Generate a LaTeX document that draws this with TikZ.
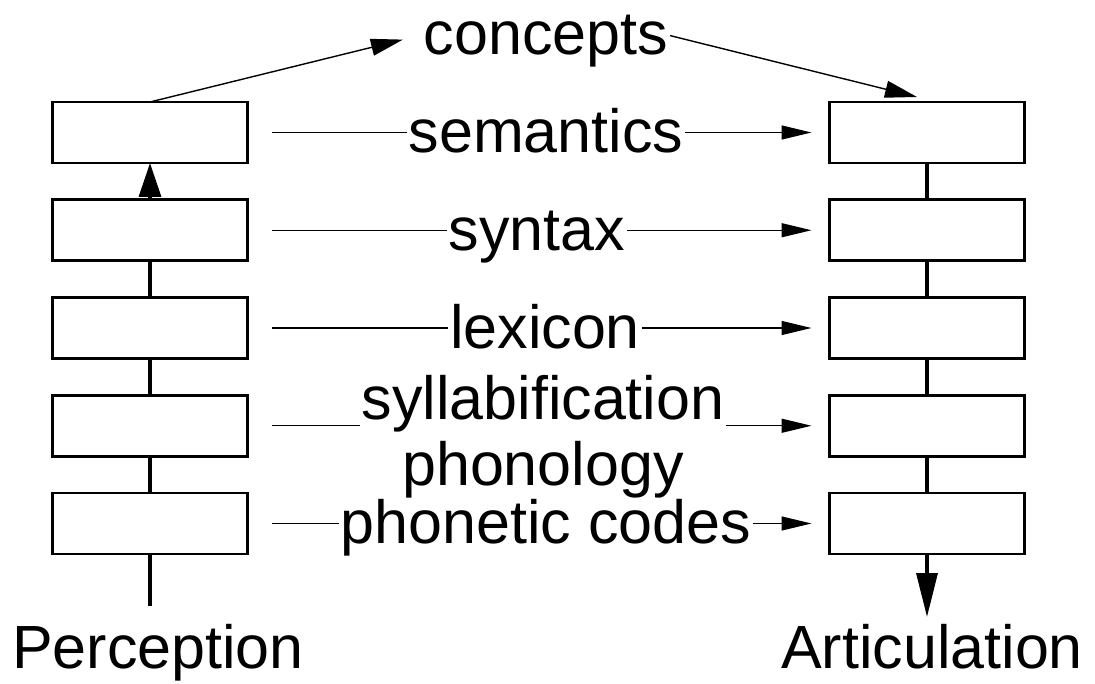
\documentclass[tikz,border=0pt]{standalone}
\usepackage{fontspec}
\setmainfont{Liberation Sans}
\usetikzlibrary{positioning,arrows.meta}

\begin{document}
\begin{tikzpicture}[x=1pt,y=-1pt,node distance=36.75pt,outer sep=0pt,
font=\fontsize{61}{66}\selectfont,
layerb/.style={
  draw,
  line width=2.6pt,
  minimum width=195pt,
  minimum height=61pt,
  inner sep=0pt},
levelt/.style={anchor=base,inner sep=2pt},
spine/.style={line width=3.4pt},
thinl/.style={line width=1.4pt},
link/.style={thinl,-{Triangle[length=30pt,width=14pt]}},
]
\useasboundingbox (0,0) rectangle (1095,684);
\node[layerb] (L1) at (150,132.5) {};
\node[layerb,below=of L1] (L2) {};
\node[layerb,below=of L2] (L3) {};
\node[layerb,below=of L3] (L4) {};
\node[layerb,below=of L4] (L5) {};
\node[layerb] (R1) at (927,132.5) {};
\node[layerb,below=of R1] (R2) {};
\node[layerb,below=of R2] (R3) {};
\node[layerb,below=of R3] (R4) {};
\node[layerb,below=of R4] (R5) {};
\node[levelt] (con) at (546,55) {concepts};
\node[levelt] (sem) at (546,153) {semantics};
\node[levelt] (syn) at (537,251) {syntax};
\node[levelt] (lex) at (545,349) {lexicon};
\node[levelt] (syl) at (543,420) {syllabification};
\node[levelt] (pho) at (543,485) {phonology};
\node[levelt] (phc) at (546,543) {phonetic codes};
\node[levelt] (per) at (158,668) {Perception};
\node[levelt] (art) at (932,668) {Articulation};
\coordinate (perin) at (150,606);
\coordinate (artout) at (927,617);
\draw[spine] (perin) -- (L5.south);
\draw[spine] (L5.north) -- (L4.south);
\draw[spine] (L4.north) -- (L3.south);
\draw[spine] (L3.north) -- (L2.south);
\draw[spine,-{Triangle[length=34pt,width=22pt]}] (L2.north) -- (L1.south);
\draw[spine] (R1.south) -- (R2.north);
\draw[spine] (R2.south) -- (R3.north);
\draw[spine] (R3.south) -- (R4.north);
\draw[spine] (R4.south) -- (R5.north);
\draw[spine,-{Triangle[length=44pt,width=21pt]}] (R5.south) -- (artout);
\draw[thinl,-{Triangle[length=32pt,width=17pt]}] (L1.north) -- ([xshift=-19pt,yshift=2pt]con.west);
\draw[thinl,-{Triangle[length=32pt,width=17pt]}] ([yshift=6pt]con.east) -- ([xshift=-10pt,yshift=5pt]R1.north);
\draw[thinl] ([xshift=24pt]L1.east) -- (L1.east -| sem.west);
\draw[link] (R1.west -| sem.east) -- ([xshift=-18pt]R1.west);
\draw[thinl] ([xshift=24pt]L2.east) -- (L2.east -| syn.west);
\draw[link] (R2.west -| syn.east) -- ([xshift=-18pt]R2.west);
\draw[thinl] ([xshift=24pt]L3.east) -- (L3.east -| lex.west);
\draw[link] (R3.west -| lex.east) -- ([xshift=-18pt]R3.west);
\draw[thinl] ([xshift=24pt]L4.east) -- (L4.east -| syl.west);
\draw[link] (R4.west -| syl.east) -- ([xshift=-18pt]R4.west);
\draw[thinl] ([xshift=24pt]L5.east) -- (L5.east -| phc.west);
\draw[link] (R5.west -| phc.east) -- ([xshift=-18pt]R5.west);
\end{tikzpicture}
\end{document}
